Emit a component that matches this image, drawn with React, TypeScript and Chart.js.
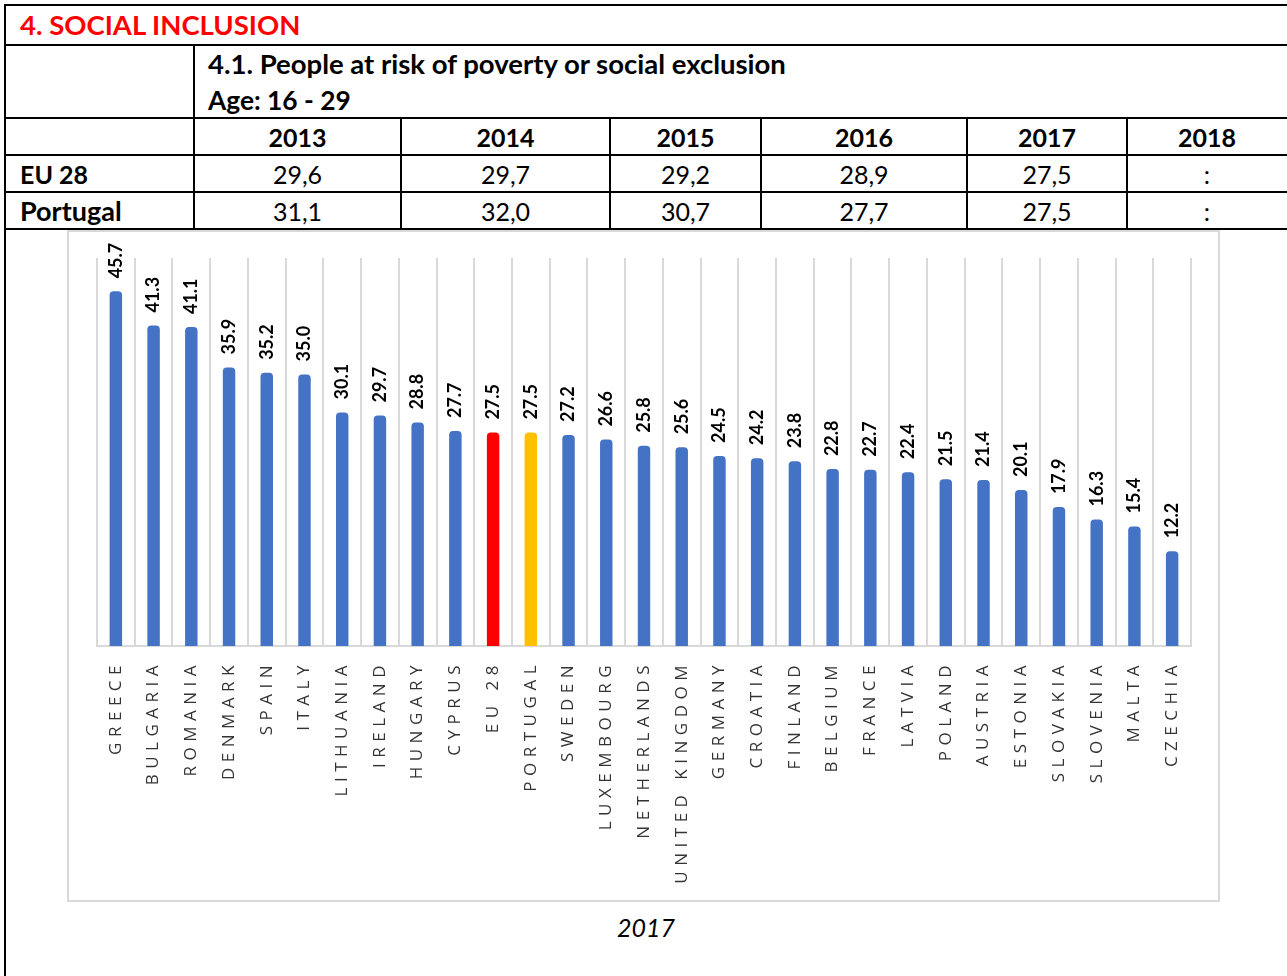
import React, { useEffect, useRef } from "react";
import { Chart, registerables } from "chart.js";

Chart.register(...registerables);

const countries = [
  "GREECE", "BULGARIA", "ROMANIA", "DENMARK", "SPAIN", "ITALY", "LITHUANIA", "IRELAND",
  "HUNGARY", "CYPRUS", "EU 28", "PORTUGAL", "SWEDEN", "LUXEMBOURG", "NETHERLANDS",
  "UNITED KINGDOM", "GERMANY", "CROATIA", "FINLAND", "BELGIUM", "FRANCE", "LATVIA",
  "POLAND", "AUSTRIA", "ESTONIA", "SLOVAKIA", "SLOVENIA", "MALTA", "CZECHIA",
];
const values2017 = [
  45.7, 41.3, 41.1, 35.9, 35.2, 35.0, 30.1, 29.7, 28.8, 27.7, 27.5, 27.5, 27.2, 26.6, 25.8,
  25.6, 24.5, 24.2, 23.8, 22.8, 22.7, 22.4, 21.5, 21.4, 20.1, 17.9, 16.3, 15.4, 12.2,
];
const years = ["2013", "2014", "2015", "2016", "2017", "2018"];
const eu28Values = ["29,6", "29,7", "29,2", "28,9", "27,5", ":"];
const portugalValues = ["31,1", "32,0", "30,7", "27,7", "27,5", ":"];
const chartYear = "2017";

const BLUE = "#4472C4";
const RED = "#FF0000";
const GOLD = "#FFC000";
const FONT = "Lato, 'Open Sans', sans-serif";

const colCuts = [194, 401, 610, 761, 967, 1127, 1287];

function HLine({ y, x1, x2 }: { y: number; x1: number; x2: number }) {
  return <div style={{ position: "absolute", left: x1, top: y - 1, width: x2 - x1, height: 2, background: "#000" }} />;
}
function VLine({ x, y1, y2 }: { x: number; y1: number; y2: number }) {
  return <div style={{ position: "absolute", left: x - 1, top: y1, width: 2, height: y2 - y1, background: "#000" }} />;
}
function Txt({ x, y, w, text, bold, color, align, size, italic }: any) {
  return (
    <div
      style={{
        position: "absolute",
        left: x,
        top: y - 20,
        width: w,
        height: 40,
        lineHeight: "40px",
        textAlign: align || "left",
        fontFamily: FONT,
        fontWeight: bold ? 700 : 400,
        fontStyle: italic ? "italic" : "normal",
        fontSize: size || 25,
        color: color || "#000",
        whiteSpace: "nowrap",
      }}
    >
      {text}
    </div>
  );
}

const labelPlugin = {
  id: "customLabels",
  afterDatasetsDraw(chart: any) {
    const ctx = chart.ctx;
    const xs = chart.scales.x;
    const ys = chart.scales.y;
    const area = chart.chartArea;
    ctx.save();
    countries.forEach((name, i) => {
      const x = xs.getPixelForValue(i);
      // category label
      ctx.save();
      ctx.translate(x, area.bottom + 14);
      ctx.rotate(-Math.PI / 2);
      ctx.font = `400 17px 'Open Sans', sans-serif`;
      (ctx as any).letterSpacing = "5.5px";
      ctx.fillStyle = "#333333";
      ctx.textAlign = "right";
      ctx.textBaseline = "middle";
      ctx.fillText(name, 0, 0);
      ctx.restore();
      // value label
      const v = values2017[i];
      const top = ys.getPixelForValue(v);
      ctx.save();
      ctx.translate(x, top - 13);
      ctx.rotate(-Math.PI / 2);
      ctx.font = `700 18px Lato, sans-serif`;
      ctx.fillStyle = "#000";
      ctx.textAlign = "left";
      ctx.textBaseline = "middle";
      ctx.fillText(v.toFixed(1), 0, 0);
      ctx.restore();
    });
    ctx.restore();
  },
};

function BarChart() {
  const ref = useRef<HTMLCanvasElement>(null);
  useEffect(() => {
    if (!ref.current) return;
    const colors = countries.map((c) => (c === "EU 28" ? RED : c === "PORTUGAL" ? GOLD : BLUE));
    const chart = new Chart(ref.current, {
      type: "bar",
      data: {
        labels: countries,
        datasets: [
          {
            data: values2017,
            backgroundColor: colors,
            borderRadius: { topLeft: 4, topRight: 4, bottomLeft: 0, bottomRight: 0 },
            borderSkipped: "bottom",
            barPercentage: 0.33,
            categoryPercentage: 1,
          },
        ],
      },
      options: {
        animation: false,
        responsive: true,
        maintainAspectRatio: false,
        layout: { padding: { left: 28, right: 27, top: 26, bottom: 254 } },
        plugins: { legend: { display: false }, tooltip: { enabled: false } },
        scales: {
          x: {
            ticks: { display: false },
            grid: { color: "#d9d9d9", lineWidth: 2, drawTicks: false, offset: true },
            border: { color: "#d9d9d9", width: 2 },
          },
          y: {
            display: false,
            min: 0,
            max: 50,
          },
        },
      },
      plugins: [labelPlugin],
    });
    return () => chart.destroy();
  }, []);
  return <canvas ref={ref} />;
}

export default function App() {
  return (
    <div style={{ position: "absolute", left: 0, top: 0, width: 1287, height: 976, background: "#fff", overflow: "hidden" }}>
      {/* horizontal rules */}
      <HLine y={5} x1={4} x2={1287} />
      <HLine y={45} x1={4} x2={1287} />
      <HLine y={118} x1={4} x2={1287} />
      <HLine y={155} x1={4} x2={1287} />
      <HLine y={192} x1={4} x2={1287} />
      <HLine y={229} x1={4} x2={1287} />
      {/* vertical rules */}
      <VLine x={5} y1={4} y2={976} />
      <VLine x={194} y1={45} y2={229} />
      {colCuts.slice(1, 6).map((x) => (
        <VLine key={x} x={x} y1={118} y2={229} />
      ))}
      <Txt x={20} y={25} text="4. SOCIAL INCLUSION" bold color={RED} size={27.5} />
      <Txt x={208} y={64} text="4.1. People at risk of poverty or social exclusion" bold size={27.5} />
      <Txt x={208} y={100} text="Age: 16 - 29" bold size={26.3} />
      {years.map((yr, i) => (
        <Txt key={yr} x={colCuts[i]} w={colCuts[i + 1] - colCuts[i]} y={137} text={yr} bold align="center" />
      ))}
      <Txt x={20} y={174} text="EU 28" bold />
      <Txt x={20} y={211} text="Portugal" bold size={27} />
      {eu28Values.map((v, i) => (
        <Txt key={"e" + i} x={colCuts[i]} w={colCuts[i + 1] - colCuts[i]} y={174} text={v} align="center" />
      ))}
      {portugalValues.map((v, i) => (
        <Txt key={"p" + i} x={colCuts[i]} w={colCuts[i + 1] - colCuts[i]} y={211} text={v} align="center" />
      ))}
      <div
        style={{
          position: "absolute",
          left: 67,
          top: 230,
          width: 1153,
          height: 672,
          border: "2px solid #d9d9d9",
          boxSizing: "border-box",
        }}
      >
        <div style={{ position: "relative", width: "100%", height: "100%" }}>
          <BarChart />
        </div>
      </div>
      <Txt x={546} w={200} y={927} text={chartYear} italic align="center" size={25} />
    </div>
  );
}
